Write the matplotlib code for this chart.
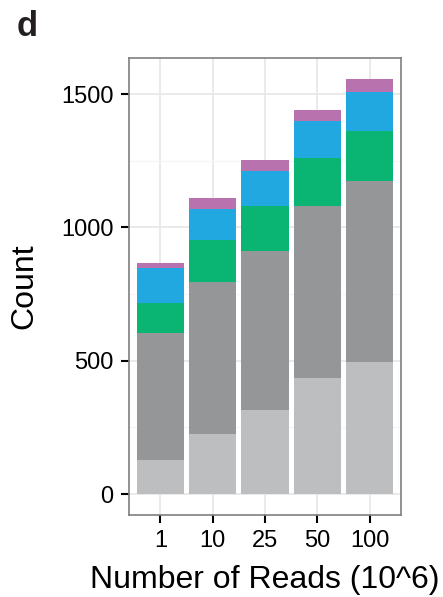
import numpy as np
import matplotlib
matplotlib.use("Agg")
import matplotlib.pyplot as plt
from matplotlib.ticker import MultipleLocator

plt.rcParams['font.family'] = ['Liberation Sans', 'DejaVu Sans']

# reads (millions) and stacked counts, bottom layer first
reads = ['1', '10', '25', '50', '100']
layer_light = [130, 226, 316, 435, 495]
layer_dark = [473, 568, 596, 645, 678]
layer_green = [112, 159, 168, 179, 187]
layer_blue = [131, 117, 131, 141, 149]
layer_purple = [21, 40, 40, 41, 48]

layers = [layer_light, layer_dark, layer_green, layer_blue, layer_purple]
colors = ['#bdbec0', '#959698', '#0ab473', '#21a8e0', '#b872ae']

fig = plt.figure(figsize=(4.43, 5.97), dpi=100)
ax = fig.add_axes([129/443, 1 - 515/597, (401 - 129)/443, (515 - 58)/597])

x = np.arange(len(reads))
bottom = np.zeros(len(reads))
for vals, c in zip(layers, colors):
    ax.bar(x, vals, width=0.9, bottom=bottom, color=c, zorder=2)
    bottom += np.array(vals)

ax.set_xlim(-0.6, 4.6)
ax.set_ylim(-78, 1635)
ax.set_xticks(x)
ax.set_xticklabels(reads)
ax.yaxis.set_major_locator(MultipleLocator(500))
ax.yaxis.set_minor_locator(MultipleLocator(250))

ax.grid(True, which='major', color='#e8e8e8', lw=1.3, zorder=0)
ax.grid(True, which='minor', axis='y', color='#f5f5f5', lw=1.0, zorder=0)
ax.tick_params(which='minor', length=0)
ax.tick_params(which='major', length=5.5, width=1.5, color='black',
               labelsize=17, pad=5.5)
for s in ax.spines.values():
    s.set_color('#7f7f7f')
    s.set_linewidth(1.2)

ax.set_ylabel('Count', fontsize=23, labelpad=16)
ax.set_xlabel('Number of Reads (10^6)', fontsize=23, labelpad=9)

fig.text(17/443, 1 - 27/597, 'd', fontsize=25, fontweight='bold',
         va='center', ha='left', color='#231f20')

fig.savefig('out.png', dpi=100)
